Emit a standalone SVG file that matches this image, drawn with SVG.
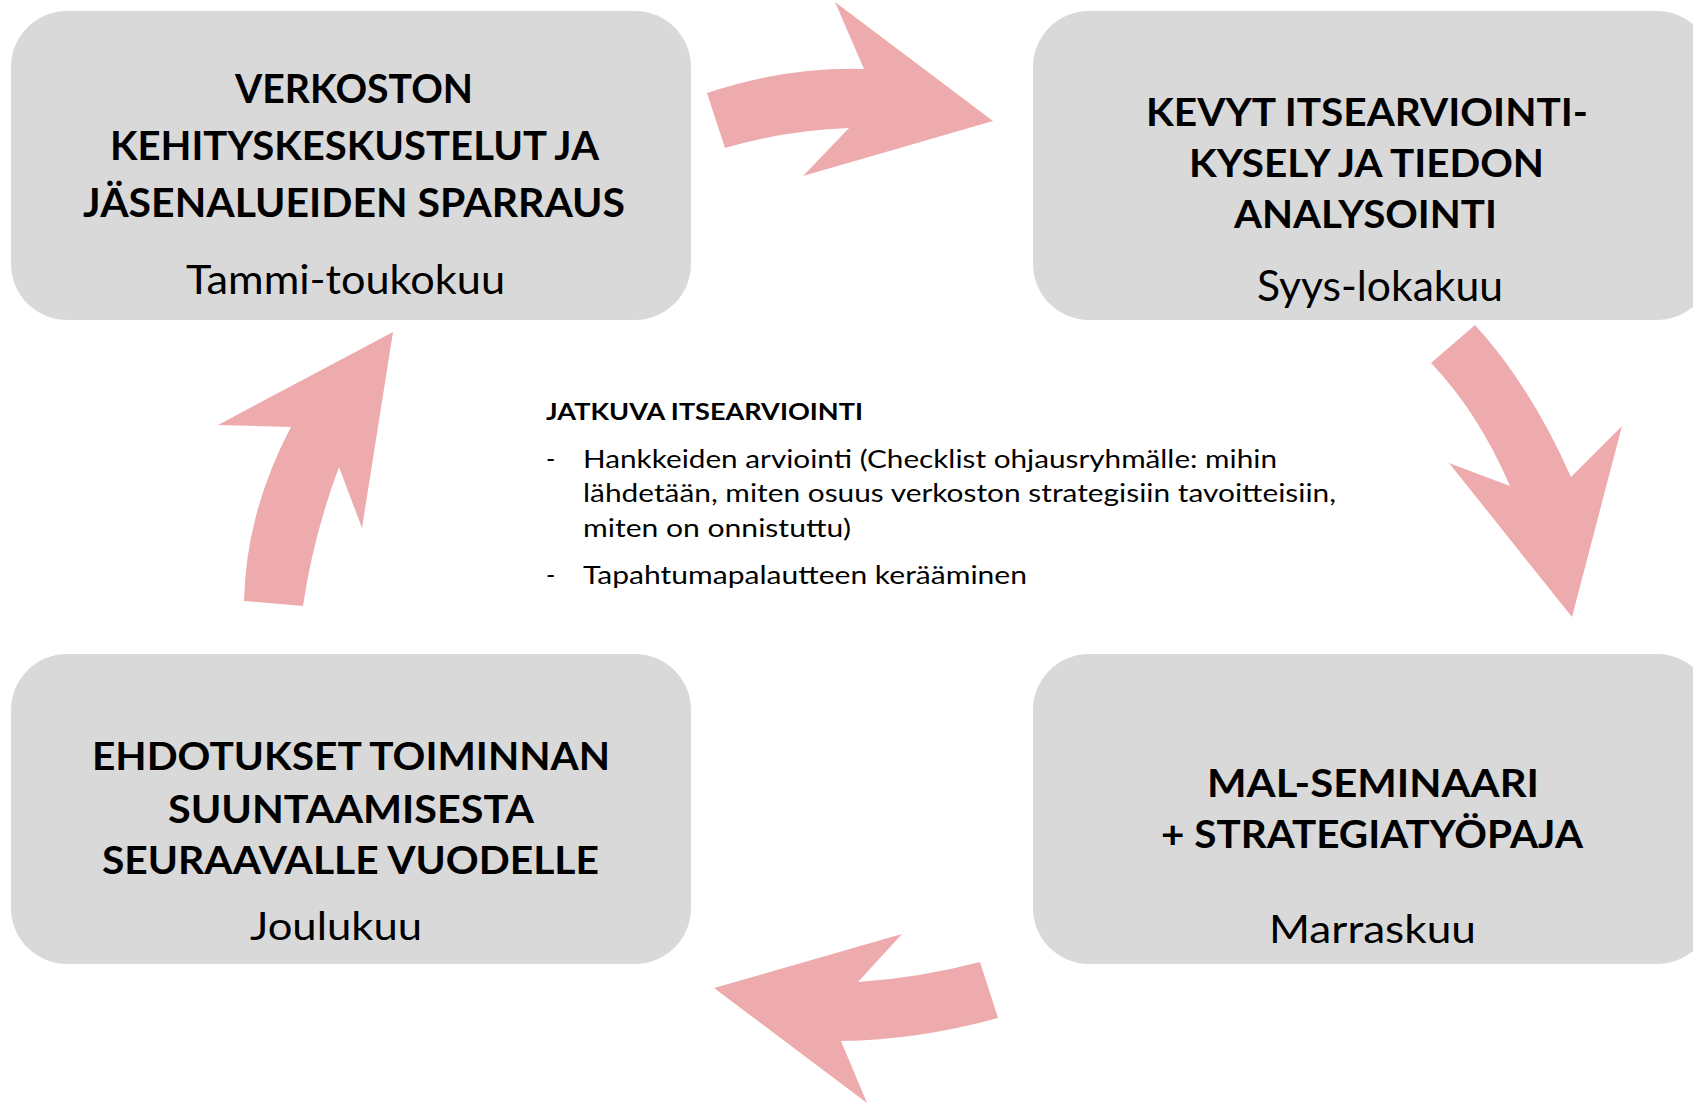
<svg xmlns="http://www.w3.org/2000/svg" width="1693" height="1104" viewBox="0 0 1693 1104">
<style>
.box{fill:#D9D9D9}
.arrow{fill:#EEABAE}
.h{font-family:Lato,"Open Sans","Liberation Sans",sans-serif;font-weight:bold;fill:#000}
.r{font-family:Lato,"Open Sans","Liberation Sans",sans-serif;font-weight:normal;fill:#000}
</style>
<rect width="1693" height="1104" fill="#FFFFFF"/>
<g id="connectors">
<path class="arrow" d="M707,93 Q784,67 864,69 L835,2 L993,121 L803,176 L849,128 Q787,130 725,148 Z"/>
<path class="arrow" d="M1431,363 L1475,325 Q1530,385 1571,477 L1622,426 L1572,617 L1449,463 L1510,486 Q1478,412 1431,363 Z"/>
<path class="arrow" d="M980,962 L998,1018 Q918,1040 841,1041 L867,1103 L714,988 L902,934 L858,982 Q919,978 980,962 Z"/>
<path class="arrow" d="M244,601 L303,606 Q313,537 339,467 L362,528 L393,332 L218,425 L291,427 Q246,512 244,601 Z"/>
</g>
<g id="node-verkoston">
<rect class="box" x="11" y="11" width="680" height="309" rx="56"/>
<text class="h" font-size="41" x="235" y="103" textLength="238" lengthAdjust="spacingAndGlyphs">VERKOSTON</text>
<text class="h" font-size="41" x="110" y="160" textLength="489" lengthAdjust="spacingAndGlyphs">KEHITYSKESKUSTELUT JA</text>
<text class="h" font-size="41" x="83" y="217" textLength="542" lengthAdjust="spacingAndGlyphs">JÄSENALUEIDEN SPARRAUS</text>
<text class="r" font-size="41" x="186" y="294" textLength="319" lengthAdjust="spacingAndGlyphs">Tammi-toukokuu</text>
</g>
<g id="node-kevyt">
<rect class="box" x="1033" y="11" width="680" height="309" rx="56"/>
<text class="h" font-size="38" x="1146" y="126" textLength="442" lengthAdjust="spacingAndGlyphs">KEVYT ITSEARVIOINTI-</text>
<text class="h" font-size="38" x="1189" y="177" textLength="355" lengthAdjust="spacingAndGlyphs">KYSELY JA TIEDON</text>
<text class="h" font-size="38" x="1234" y="228" textLength="263" lengthAdjust="spacingAndGlyphs">ANALYSOINTI</text>
<text class="r" font-size="43" x="1257" y="301" textLength="246" lengthAdjust="spacingAndGlyphs">Syys-lokakuu</text>
</g>
<g id="node-mal">
<rect class="box" x="1033" y="654" width="680" height="310" rx="56"/>
<text class="h" font-size="39" x="1207" y="797" textLength="332" lengthAdjust="spacingAndGlyphs">MAL-SEMINAARI</text>
<text class="h" font-size="39" x="1161" y="848" textLength="422" lengthAdjust="spacingAndGlyphs">+ STRATEGIATYÖPAJA</text>
<text class="r" font-size="39" x="1269" y="943" textLength="207" lengthAdjust="spacingAndGlyphs">Marraskuu</text>
</g>
<g id="node-ehdotukset">
<rect class="box" x="11" y="654" width="680" height="310" rx="56"/>
<text class="h" font-size="39" x="92" y="770" textLength="518" lengthAdjust="spacingAndGlyphs">EHDOTUKSET TOIMINNAN</text>
<text class="h" font-size="39" x="168" y="823" textLength="366" lengthAdjust="spacingAndGlyphs">SUUNTAAMISESTA</text>
<text class="h" font-size="39" x="102" y="874" textLength="497" lengthAdjust="spacingAndGlyphs">SEURAAVALLE VUODELLE</text>
<text class="r" font-size="39" x="250" y="940" textLength="172" lengthAdjust="spacingAndGlyphs">Joulukuu</text>
</g>
<g id="node-jatkuva">
<text class="h" font-size="22" x="546" y="420" textLength="317" lengthAdjust="spacingAndGlyphs">JATKUVA ITSEARVIOINTI</text>
<text class="r" font-size="25" x="546" y="468">-</text>
<text class="r" font-size="25" x="583" y="468" textLength="694" lengthAdjust="spacingAndGlyphs">Hankkeiden arviointi (Checklist ohjausryhmälle: mihin</text>
<text class="r" font-size="25" x="583" y="502" textLength="753" lengthAdjust="spacingAndGlyphs">lähdetään, miten osuus verkoston strategisiin tavoitteisiin,</text>
<text class="r" font-size="25" x="583" y="537" textLength="268" lengthAdjust="spacingAndGlyphs">miten on onnistuttu)</text>
<text class="r" font-size="25" x="546" y="584">-</text>
<text class="r" font-size="25" x="583" y="584" textLength="444" lengthAdjust="spacingAndGlyphs">Tapahtumapalautteen kerääminen</text>
</g>
</svg>
